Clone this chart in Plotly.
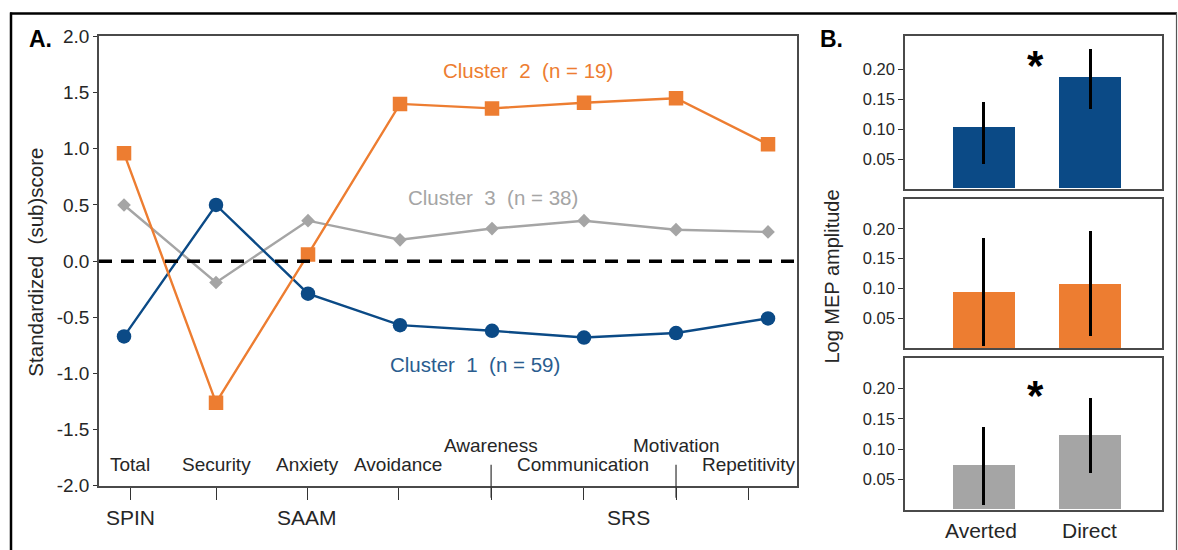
import plotly.graph_objects as go

# ---------------- data ----------------
subscales = ["Total", "Security", "Anxiety", "Avoidance", "Awareness",
             "Communication", "Motivation", "Repetitivity"]
cluster1 = [-0.67, 0.50, -0.29, -0.57, -0.62, -0.68, -0.64, -0.51]
cluster2 = [0.96, -1.26, 0.06, 1.40, 1.36, 1.41, 1.45, 1.04]
cluster3 = [0.50, -0.19, 0.36, 0.19, 0.29, 0.36, 0.28, 0.26]
cluster_names = ["Cluster\u00a0 1 \u00a0(n = 59)", "Cluster\u00a0 2 \u00a0(n = 19)", "Cluster\u00a0 3 \u00a0(n = 38)"]
questionnaires = ["SPIN", "SAAM", "SRS"]
y_ticks_a = [-2.0, -1.5, -1.0, -0.5, 0.0, 0.5, 1.0, 1.5, 2.0]
y_ticktext_a = ["-2.0", "-1.5", "-1.0", "-0.5", "0.0", "0.5", "1.0", "1.5", "2.0"]

gaze = ["Averted", "Direct"]
mep1 = [0.103, 0.186]
mep1_hi = [0.146, 0.234]
mep1_lo = [0.042, 0.133]
mep2 = [0.094, 0.108]
mep2_hi = [0.185, 0.197]
mep2_lo = [0.004, 0.021]
mep3 = [0.073, 0.123]
mep3_hi = [0.136, 0.185]
mep3_lo = [0.008, 0.061]
y_ticks_b = [0.05, 0.10, 0.15, 0.20]

# ---------------- style ----------------
BLUE = "#0B4A86"
BLUE_TXT = "#2A5D8F"
ORANGE = "#ED7D31"
GRAY = "#A5A5A5"
FONT = "Liberation Sans, Arial, sans-serif"
TXT = "#262626"
W, H = 1178, 550

def px(x):
    return x / W

def py(y):
    # vertical placement of a target pixel row (compensates page offset)
    yy = (y - 8.4) / 0.9655
    return 1 - yy / H

fig = go.Figure()

idx = list(range(len(subscales)))

# Panel A lines
fig.add_trace(go.Scatter(x=idx, y=cluster3, mode="lines+markers",
                         line=dict(color=GRAY, width=2.4),
                         marker=dict(symbol="diamond", size=10.5, color=GRAY),
                         xaxis="x", yaxis="y", showlegend=False))
fig.add_trace(go.Scatter(x=idx, y=cluster1, mode="lines+markers",
                         line=dict(color=BLUE, width=2.4),
                         marker=dict(symbol="circle", size=14.5, color=BLUE),
                         xaxis="x", yaxis="y", showlegend=False))
fig.add_trace(go.Scatter(x=idx, y=cluster2, mode="lines+markers",
                         line=dict(color=ORANGE, width=2.4),
                         marker=dict(symbol="square", size=14.5, color=ORANGE),
                         xaxis="x", yaxis="y", showlegend=False))

# Panel B bars
bars = [(mep1, mep1_hi, mep1_lo, BLUE, "2"),
        (mep2, mep2_hi, mep2_lo, ORANGE, "3"),
        (mep3, mep3_hi, mep3_lo, GRAY, "4")]
for vals, hi, lo, col, n in bars:
    fig.add_trace(go.Bar(
        x=gaze, y=vals, width=0.59, marker=dict(color=col, line=dict(width=0)),
        error_y=dict(type="data", symmetric=False,
                     array=[h - v for h, v in zip(hi, vals)],
                     arrayminus=[v - l for v, l in zip(vals, lo)],
                     color="black", thickness=3, width=0),
        xaxis="x" + n, yaxis="y" + n, showlegend=False))

tick_pos = [0.065, 1, 1.99, 2.98, 3.99, 4.99, 6.0, 6.79]
axis_line = "#4a4a4a"

layout = dict(
    width=W, height=H, margin=dict(l=0, r=0, t=0, b=0), autosize=False,
    paper_bgcolor="white", plot_bgcolor="white",
    font=dict(family=FONT, color=TXT),
    bargap=0,
    xaxis=dict(domain=[px(99), px(797)], range=[-0.272, 7.315],
               tickvals=tick_pos, showticklabels=False, ticks="outside",
               ticklen=12, tickwidth=1.2, tickcolor="#333",
               showline=True, linecolor=axis_line, linewidth=1.5, mirror=True,
               showgrid=False, zeroline=False),
    yaxis=dict(domain=[py(486), py(35)], range=[-2.0, 2.0],
               tickvals=y_ticks_a, ticktext=y_ticktext_a, ticks="outside", ticklen=4,
               tickcolor="#333",
               tickfont=dict(size=19, color=TXT),
               showline=True, linecolor=axis_line, linewidth=1.5, mirror=True,
               showgrid=False, zeroline=False),
)

tops = [35, 198, 358]
bots = [188, 348, 510]
rng = [0.255, 0.25, 0.25]
for i, n in enumerate(["2", "3", "4"]):
    layout["xaxis" + n] = dict(domain=[px(905), px(1162)], range=[-0.745, 1.679],
                               anchor="y" + n, showticklabels=False,
                               showline=True, linecolor=axis_line, linewidth=1.5,
                               mirror=True, showgrid=False, zeroline=False,
                               ticks="")
    layout["yaxis" + n] = dict(domain=[py(bots[i]), py(tops[i])], range=[0, rng[i]],
                               anchor="x" + n, tickvals=y_ticks_b, tickformat=".2f",
                               ticks="outside", ticklen=5, tickcolor="#333",
                               tickfont=dict(size=16.5, color=TXT),
                               showline=True, linecolor=axis_line, linewidth=1.5,
                               mirror=True, showgrid=False, zeroline=False)

fig.update_layout(**layout)

shapes = []
# zero dashed line
shapes.append(dict(type="line", xref="x domain", yref="y", x0=0, x1=1, y0=0, y1=0,
                   line=dict(color="black", width=3.5, dash="13px,9px")))
# long ticks for Awareness and Motivation
for k in (4, 6):
    shapes.append(dict(type="line", xref="x", yref="paper", x0=tick_pos[k], x1=tick_pos[k],
                       y0=py(498), y1=py(465), line=dict(color="#333", width=1.2)))
# outer frame
shapes.append(dict(type="line", xref="paper", yref="paper", x0=px(10), x1=px(1177),
                   y0=py(12), y1=py(12), line=dict(color="black", width=2.5)))
shapes.append(dict(type="line", xref="paper", yref="paper", x0=px(11), x1=px(11),
                   y0=py(11), y1=py(600), line=dict(color="black", width=2.5)))
shapes.append(dict(type="line", xref="paper", yref="paper", x0=px(1176.5), x1=px(1176.5),
                   y0=py(11), y1=py(600), line=dict(color="#555", width=1.2)))
fig.update_layout(shapes=shapes)

ann = []

def label(x, y, text, size, color=TXT, xref="paper", textangle=0):
    ann.append(dict(x=x, y=y, xref=xref, yref="paper", text=text, showarrow=False,
                    xanchor="center", yanchor="middle", textangle=textangle,
                    font=dict(size=size, color=color)))

upper = {4, 6}
for k, name in enumerate(subscales):
    label(tick_pos[k], py(446 if k in upper else 465), name, 19, xref="x")
for q, xp in zip(questionnaires, [0.065, 1.99, 5.48]):
    label(xp, py(518), q, 21, xref="x")
# cluster labels
label(px(475), py(364), cluster_names[0], 20.5, BLUE_TXT)
label(px(528), py(69), cluster_names[1], 20.5, ORANGE)
label(px(493), py(197), cluster_names[2], 20.5, GRAY)
# panel letters
label(px(40), py(38), "<b>A.</b>", 23, "black")
label(px(831), py(38), "<b>B.</b>", 23, "black")
# axis titles
label(px(36), py(262), "Standardized\u00a0 (sub)score", 20.5, textangle=-90)
label(px(832), py(276), "Log MEP amplitude", 20, textangle=-90)
# gaze labels
for g, xp in zip(gaze, [981, 1089]):
    label(px(xp), py(531), g, 21)
# significance asterisks
for yy in (64, 395):
    label(px(1035), py(yy), "<b>*</b>", 42, "black")
fig.update_layout(annotations=ann)

fig.write_html("out.html")
